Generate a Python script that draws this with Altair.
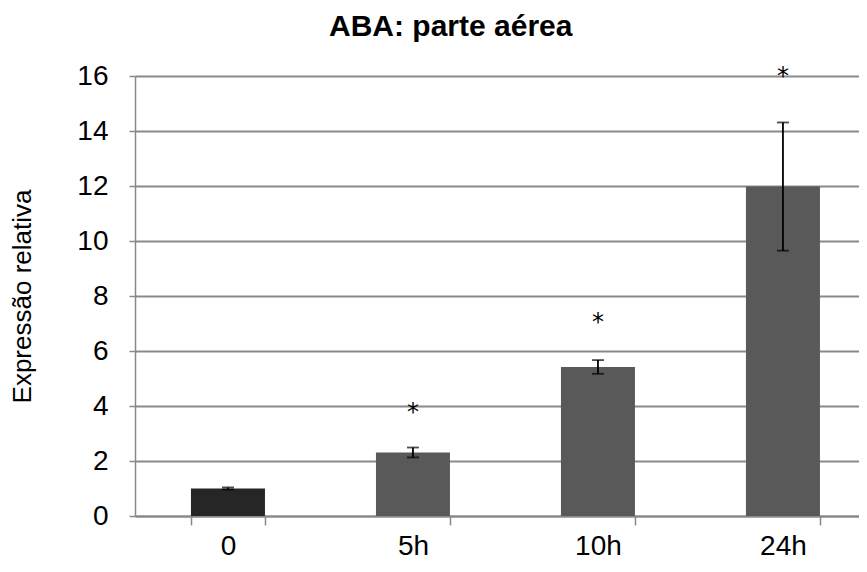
import altair as alt
import pandas as pd

categories = ["0", "5h", "10h", "24h"]
means = [1.0, 2.31, 5.42, 11.98]
errors = [0.04, 0.18, 0.25, 2.33]
star_cats = ["5h", "10h", "24h"]
star_y = [3.93, 7.19, 16.16]
bar_colors = ["#262626", "#595959", "#595959", "#595959"]
y_ticks = [0, 2, 4, 6, 8, 10, 12, 14, 16]

FONT = "Liberation Sans"
GRID = "#898989"

df = pd.DataFrame({"cat": categories, "mean": means, "err": errors})
df["lo"] = df["mean"] - df["err"]
df["hi"] = df["mean"] + df["err"]
stars = pd.DataFrame({"cat": star_cats, "y": star_y, "label": ["*"] * len(star_cats)})

xscale = alt.Scale(domain=categories, paddingInner=0.6, paddingOuter=0.2568, align=0.589)
yscale = alt.Scale(domain=[0, 16], nice=False, zero=True)

x_axis = alt.Axis(
    title=None, labelAngle=0, tickBand="extent", grid=False,
    domainColor=GRID, domainWidth=2, tickColor=GRID, tickWidth=1.5, tickSize=9,
    labelFont=FONT, labelFontSize=28, labelColor="black", labelPadding=7,
)
y_axis = alt.Axis(
    title="Expressão relativa", values=y_ticks, grid=True, gridColor=GRID, gridWidth=2,
    domainColor=GRID, domainWidth=1.5, tickColor=GRID, tickWidth=1.5, tickSize=6,
    labelFont=FONT, labelFontSize=28, labelColor="black", labelPadding=21,
    titleFont=FONT, titleFontSize=26, titleFontWeight="normal", titleColor="black", titlePadding=41,
)

X = alt.X("cat:N", scale=xscale, sort=categories, axis=x_axis)

bars = alt.Chart(df).mark_bar().encode(
    x=X,
    y=alt.Y("mean:Q", scale=yscale, axis=y_axis),
    color=alt.Color("cat:N", scale=alt.Scale(domain=categories, range=bar_colors), legend=None),
)
rules = alt.Chart(df).mark_rule(color="black", strokeWidth=1.8).encode(
    x=X, y=alt.Y("lo:Q", scale=yscale), y2="hi:Q"
)
caps_hi = alt.Chart(df).mark_tick(color="black", size=12, thickness=1.8).encode(
    x=X, y=alt.Y("hi:Q", scale=yscale)
)
caps_lo = alt.Chart(df).mark_tick(color="black", size=12, thickness=1.8).encode(
    x=X, y=alt.Y("lo:Q", scale=yscale)
)
text = alt.Chart(stars).mark_text(font="DejaVu Sans", fontSize=24, color="black", baseline="middle", dy=5).encode(
    x=X, y=alt.Y("y:Q", scale=yscale), text="label:N"
)

chart = alt.layer(bars, rules, caps_hi, caps_lo, text).properties(
    width=724, height=440,
    autosize=alt.AutoSizeParams(type="none"),
    padding={"left": 127, "top": 68, "right": 0, "bottom": 50},
    title=alt.TitleParams(
        "ABA: parte aérea", font=FONT, fontSize=30, fontWeight="bold", color="black",
        anchor="start", frame="group", dx=194, offset=4, dy=8, baseline="alphabetic",
    ),
).configure_view(stroke=None)

chart.save("out.html", embed_options={"renderer": "svg", "actions": False})
